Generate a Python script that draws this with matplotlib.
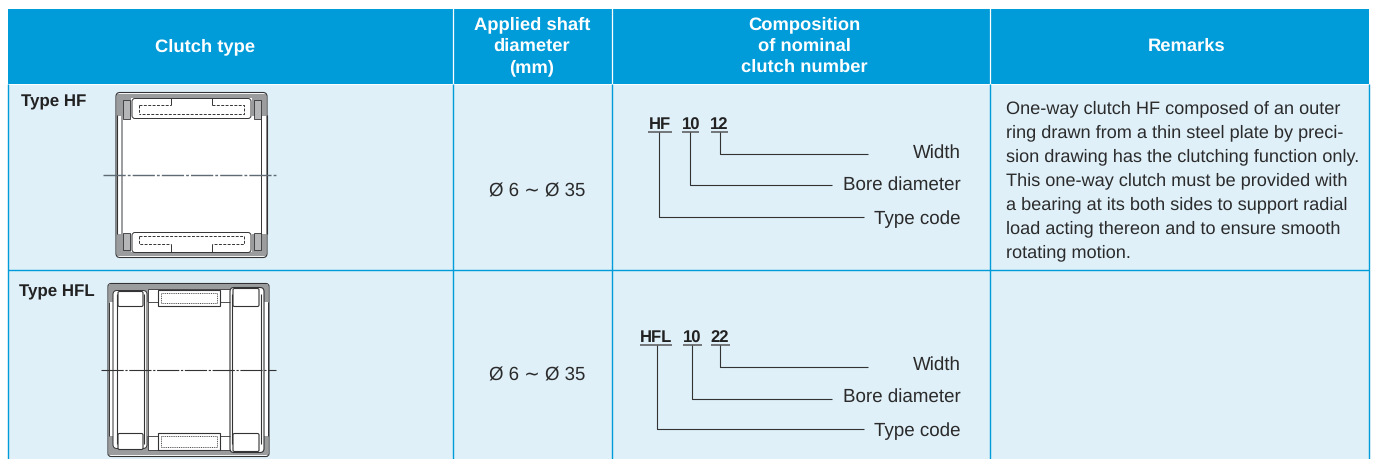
import matplotlib
matplotlib.use("Agg")
import matplotlib.pyplot as plt
from matplotlib.patches import Rectangle, FancyBboxPatch

headers = ["Clutch type", "Applied shaft\ndiameter\n(mm)", "Composition\nof nominal\nclutch number", "Remarks"]
clutch_types = ["Type HF", "Type HFL"]
shaft_range = "Ø 6 ∼ Ø 35"
code_parts = [["HF", "10", "12"], ["HFL", "10", "22"]]
code_labels = ["Width", "Bore diameter", "Type code"]
remarks = ["One-way clutch HF composed of an outer",
           "ring drawn from a thin steel plate by preci-",
           "sion drawing has the clutching function only.",
           "This one-way clutch must be provided with",
           "a bearing at its both sides to support radial",
           "load acting thereon and to ensure smooth",
           "rotating motion."]

BLUE = "#009BD9"; CELL = "#DFF0F9"; INK = "#333335"; GREY = "#9A9C9E"; FS = 13.1
FAM = ["Liberation Sans", "DejaVu Sans"]
plt.rcParams["text.hinting"] = "none"

fig = plt.figure(figsize=(13.74, 4.6), dpi=100, facecolor="white")
ax = fig.add_axes([0, 0, 1, 1]); ax.set_xlim(0, 1374); ax.set_ylim(459.5, -0.5); ax.axis("off")

def rect(x0, y0, x1, y1, fc="none", ec="none", lw=0, z=2):
    ax.add_patch(Rectangle((x0, y0), x1-x0, y1-y0, fc=fc, ec=ec, lw=lw, zorder=z))
def rrect(x0, y0, x1, y1, r=3, fc="none", ec=INK, lw=0.7, z=3):
    ax.add_patch(FancyBboxPatch((x0+r, y0+r), x1-x0-2*r, y1-y0-2*r, boxstyle=f"round,pad={r},rounding_size={r}",
                                fc=fc, ec=ec, lw=lw, zorder=z, mutation_aspect=1))
def line(xs, ys, c=INK, lw=0.7, ls="-", z=4):
    ax.plot(xs, ys, color=c, lw=lw, ls=ls, zorder=z, solid_capstyle="butt")
def text(x, y, s, ha="left", va="baseline", **k):
    k.setdefault("color", INK); k.setdefault("fontsize", FS)
    ax.text(x, y, s, ha=ha, va=va, family=FAM, zorder=6, **k)

# table frame
rect(8, 9, 1369, 85, fc=BLUE)
rect(8, 85, 1369, 460, fc=CELL, z=1)
cols = [8, 453, 612, 990, 1369]
for c in cols[1:-1]:
    line([c, c], [9, 85], c="white", lw=0.9)
for c in cols:
    line([c, c], [85, 460], c=BLUE, lw=1.0)
line([8, 1369], [271, 271], c=BLUE, lw=1.0)

# headers
centers = [205, 532, 804, 1187]
for cx, h in zip(centers, headers):
    lines = h.split("\n")
    ys = [46] if len(lines) == 1 else [24, 45.5, 67]
    for y, s in zip(ys, lines):
        text(cx, y, s, ha="center", va="center", color="white", fontweight="bold", fontsize=13.2)

text(21, 106, clutch_types[0], fontweight="bold", fontsize=12.2, color="#222222")
text(19, 296, clutch_types[1], fontweight="bold", fontsize=12.2, color="#222222")
for y in (196, 380):
    text(537, y, shaft_range, ha="center", color="#2b2b2b", fontsize=13.4)
for i, s in enumerate(remarks):
    text(1006, 113 + i*24, s, color="#2b2b2b")

# code diagrams
def code(parts, cxs, spans, ubase, legs, y_lab, ends=(868, 832, 864)):
    for p, cx, sp in zip(parts, cxs, spans):
        text(cx, ubase-4, p, ha="center", fontweight="bold", fontsize=12, color="#222222")
        line(sp, [ubase, ubase], lw=1.1, c="#555555")
    for (x, y), e, lab, yl in zip(legs, ends, code_labels, y_lab):
        line([x, x, e], [ubase, y, y], c="#333333", lw=0.8)
        text(960.5, yl, lab, ha="right", va="center", color="#2b2b2b", fontsize=13.5)
code(code_parts[0], [660, 691, 719], [(648, 672), (682, 699), (711, 728)], 133,
     [(720, 155), (690, 186), (659, 217.5)], [152, 184, 218.5])
code(code_parts[1], [656, 692, 720], [(640, 672), (683, 702), (711, 730)], 346,
     [(720, 368), (692, 400), (657, 430)], [364, 396, 430.5])

# HF drawing
rrect(116, 93, 267, 258, r=4, fc="white", ec=INK, lw=0.8, z=2)
for y0, y1 in ((94, 116.5), (235, 257)):
    rect(117, y0, 266, y1, fc=GREY, z=2.5)
for y0, y1 in ((98, 116), (235, 253)):
    rect(131, y0, 252, y1, fc="white", z=2.6)
rect(117, 117, 266, 234, fc="white", z=2.6)
for x0, x1 in ((122.5, 129.5), (254, 261)):
    for y0, y1 in ((100, 119), (234, 251)):
        rect(x0, y0, x1, y1, fc="#B4B6B8", ec=INK, lw=0.6, z=3)
line([122, 122], [116, 235], c=GREY, lw=1.4)
line([261, 261], [116, 235], lw=0.7)
line([116.5, 116.5], [116, 235], lw=0.8); line([266.5, 266.5], [116, 235], lw=0.8)
rrect(132, 99, 251, 119, r=3, fc="white", z=3.5)
rrect(132, 233, 251, 253, r=3, fc="white", z=3.5)
d = dict(ls=(0, (3, 1.5)), lw=0.7, z=5)
line([139, 171], [106, 106], **d); line([171, 171], [106, 99], lw=0.7, z=5)
line([139, 139], [106, 115], **d)
line([212, 244, 244, 139], [106, 106, 115, 115], **d); line([212, 212], [99, 106], lw=0.7, z=5)
line([139, 139, 171], [237, 245, 245], **d); line([139, 244, 244, 212], [237, 237, 245, 245], **d)
line([171, 171], [245, 253], lw=0.7, z=5); line([212, 212], [245, 253], lw=0.7, z=5)
line([103, 278], [176, 176], c="#5E6A74", lw=1.0, ls=(0, (16, 1.5, 2, 1.5)), z=5)

# HFL drawing
rrect(108, 284, 269, 457, r=3, fc="white", ec=INK, lw=0.8, z=2)
rect(109, 285, 268, 303, fc=GREY, z=2.4); rect(109, 437, 268, 456, fc=GREY, z=2.4)
rect(148, 290, 230, 451, fc="white", ec=INK, lw=0.6, z=2.5)
rrect(113, 291, 147, 449, r=4, fc="white", z=2.6)
rrect(230, 288, 264, 453, r=4, fc="white", lw=0.8, z=2.6)
for x in (117, 144, 232, 261):
    line([x, x], [295, 445], c="#333333", lw=0.8)
line([109, 109], [303, 437], lw=0.7); line([268, 268], [303, 437], lw=0.7)
for (x0, x1), tops in (((118, 143), ((292, 307), (434, 450))), ((233, 259), ((289, 307), (434, 452)))):
    for y0, y1 in tops:
        rrect(x0, y0, x1, y1, r=1.5, fc="white", lw=0.8, z=4)
for y0, y1 in ((291, 307), (434, 451)):
    rect(158, y0, 220, y1, fc="white", ec=INK, lw=0.8, z=4)
    rect(161, y0+3, 217, y1-3, ec="#333333", lw=0.6, z=5)
    ax.patches[-1].set_linestyle((0, (1.2, 1)))
    yy = 303 if y0 < 300 else 437
    line([148, 158], [yy, yy], lw=0.6); line([220, 230], [yy, yy], lw=0.6)
line([101, 276], [370.5, 370.5], c="#333333", lw=0.8, ls=(0, (20, 1.5, 2, 1.5)), z=5)

fig.savefig("out.png", dpi=100, facecolor="white")
